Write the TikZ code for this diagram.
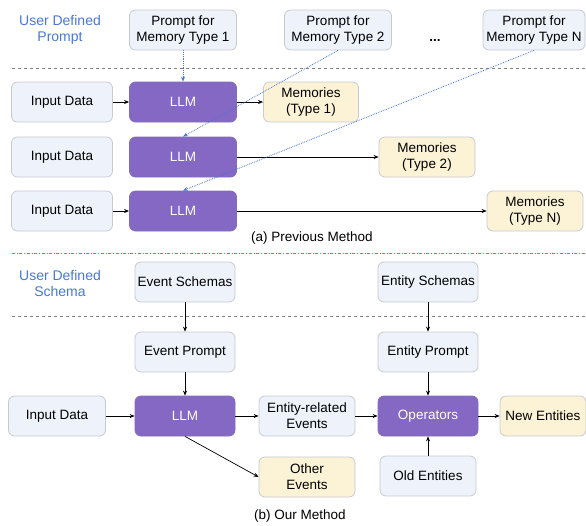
\documentclass[tikz,border=0pt]{standalone}
\usepackage{fontspec}
\setmainfont{Liberation Sans}
\usetikzlibrary{arrows.meta}
\definecolor{boxfill}{RGB}{238,242,250}
\definecolor{boxline}{RGB}{200,202,210}
\definecolor{llmfill}{RGB}{132,104,196}
\definecolor{memfill}{RGB}{252,242,214}
\definecolor{userblue}{RGB}{72,120,210}
\definecolor{sepred}{RGB}{228,90,95}
\tikzset{
	box/.style={draw=boxline,fill=boxfill,rounded corners=6pt,line width=0.8pt,
		minimum height=40pt,inner sep=2pt,align=center,font=\fontsize{13.5}{16}\selectfont},
	llmbox/.style={box,fill=llmfill,draw=llmfill!80!gray,text=white},
	membox/.style={box,fill=memfill},
	flow/.style={-{Stealth[length=5pt,width=4pt]},line width=0.7pt},
	hint/.style={-{Stealth[length=5pt,width=4pt]},userblue,densely dotted,line width=0.8pt},
	sep/.style={gray,dashed,line width=0.8pt},
	label/.style={align=center,userblue,font=\fontsize{14}{16}\selectfont},
	caption/.style={font=\fontsize{13.5}{16}\selectfont}
}

\begin{document}
\begin{tikzpicture}[x=1pt,y=-1pt]
	\useasboundingbox (0,0) rectangle (586,525);
	% (a) previous method
	\node[label] (up) at (60,30) {User Defined\\Prompt};
	\node[box,minimum width=107pt] (p1) at (183,30) {Prompt for\\Memory Type 1};
	\node[box,minimum width=107pt] (p2) at (338,30) {Prompt for\\Memory Type 2};
	\node[box,minimum width=102pt] (pn) at (534,30) {Prompt for\\Memory Type N};
	\node[font=\fontsize{13.5}{16}\selectfont\bfseries] (dots) at (435,40) {...};
	%
	\coordinate (sa1) at (12,68);
	\coordinate (sa2) at (586,68);
	\draw[sep] (sa1) -- (sa2);
	%
	\node[box,minimum width=101pt] (in1) at (62,102) {Input Data};
	\node[box,minimum width=101pt] (in2) at (62,157) {Input Data};
	\node[box,minimum width=101pt] (in3) at (62,211) {Input Data};
	\node[llmbox,minimum width=107pt] (llm1) at (183,102) {LLM};
	\node[llmbox,minimum width=107pt] (llm2) at (183,157) {LLM};
	\node[llmbox,minimum width=107pt] (llm3) at (183,211) {LLM};
	\node[membox,minimum width=95pt] (mem1) at (311,102) {Memories\\(Type 1)};
	\node[membox,minimum width=96pt] (mem2) at (427,157) {Memories\\(Type 2)};
	\node[membox,minimum width=96pt] (mem3) at (535,211) {Memories\\(Type N)};
	\node[caption] (capa) at (312,238) {(a) Previous Method};
	%
	\draw[flow] (in1) -- (llm1);
	\draw[flow] (in3) -- (llm3);
	\draw[flow] (llm1) -- (mem1);
	\draw[flow] (llm2) -- (mem2);
	\draw[flow] (llm3) -- (mem3);
	\draw[hint] (p1) -- (llm1);
	\draw[hint] (p2.south) -- (llm2.north);
	\draw[hint] (pn.south) -- (llm3.north);
	%
	\coordinate (sr1) at (12,253);
	\coordinate (sr2) at (586,253);
	\draw[sepred,dash dot,line width=1pt] (sr1) -- (sr2);
	% (b) our method
	\node[label] (us) at (60,283) {User Defined\\Schema};
	\node[box,minimum width=100pt] (evs) at (185,282) {Event Schemas};
	\node[box,minimum width=100pt] (ens) at (428,282) {Entity Schemas};
	%
	\coordinate (sb1) at (12,316);
	\coordinate (sb2) at (586,316);
	\draw[sep] (sb1) -- (sb2);
	%
	\node[box,minimum width=100pt] (evp) at (185,352) {Event Prompt};
	\node[box,minimum width=100pt] (enp) at (428,352) {Entity Prompt};
	\node[box,minimum width=97pt] (in) at (57,416) {Input Data};
	\node[llmbox,minimum width=100pt] (llm) at (185,416) {LLM};
	\node[box,minimum width=96pt] (ere) at (307,416) {Entity-related\\Events};
	\node[llmbox,minimum width=100pt] (op) at (428,416) {Operators};
	\node[membox,minimum width=86pt] (new) at (543,416) {New Entities};
	\node[membox,minimum width=96pt] (oth) at (307,477) {Other\\Events};
	\node[box,minimum width=96pt] (old) at (428,476) {Old Entities};
	\node[caption] (capb) at (300,516) {(b) Our Method};
	%
	\draw[flow] (evs) -- (evp);
	\draw[flow] (evp) -- (llm);
	\draw[flow] (ens) -- (enp);
	\draw[flow] (enp) -- (op);
	\draw[flow] (in) -- (llm);
	\draw[flow] (llm) -- (ere);
	\draw[flow] (ere) -- (op);
	\draw[flow] (op) -- (new);
	\draw[flow] (old) -- (op);
	\draw[flow] (llm.south) -- (oth.west);
\end{tikzpicture}
\end{document}
